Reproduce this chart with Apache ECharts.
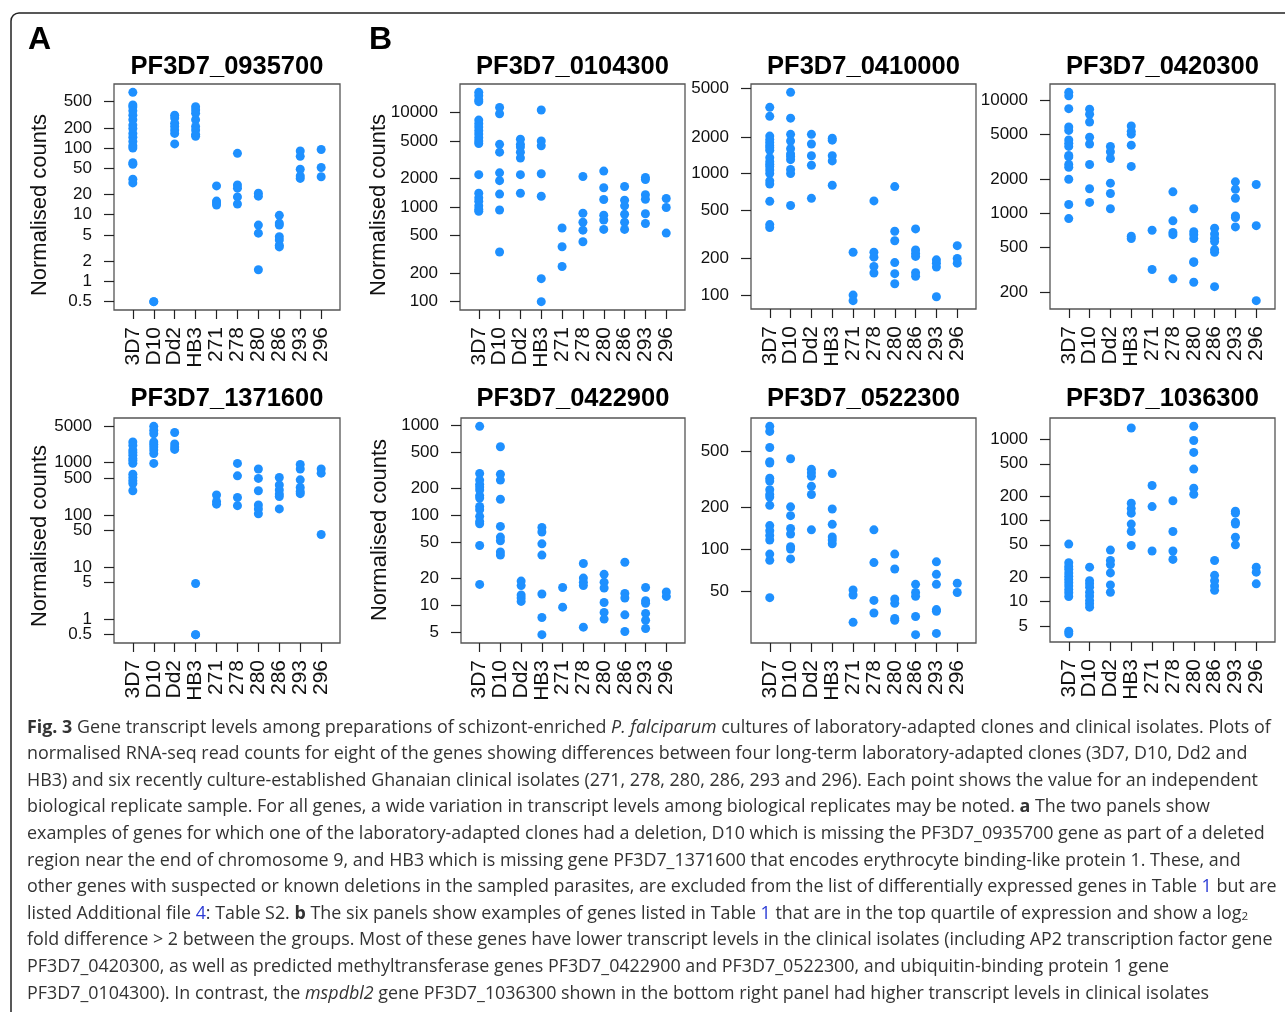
<!DOCTYPE html>
<html><head><meta charset="utf-8">
<script src="https://cdn.jsdelivr.net/npm/echarts@6/dist/echarts.min.js"></script>
<style>html,body{margin:0;padding:0;background:#fff}#c{width:1285px;height:1012px}</style>
</head><body><div id="c"></div>
<script>
const categories = ['3D7','D10','Dd2','HB3','271','278','280','286','293','296'];
const genes = ['PF3D7_0935700','PF3D7_0104300','PF3D7_0410000','PF3D7_0420300','PF3D7_1371600','PF3D7_0422900','PF3D7_0522300','PF3D7_1036300'];

const v0935700 = [
  [680,440,410,360,310,265,220,195,165,145,125,108,100,60,57,34,30],
  [0.5,0.5],
  [310,280,235,210,185,165,115],
  [415,370,330,265,210,185,160,150],
  [27,16,15,14],
  [83,28,25,18.5,14.5],
  [21,19,7,5.3,1.5],
  [9.8,7.5,7,4.7,4.2,3.5,3.3],
  [90,75,48,38,35],
  [95,51,37]
];
const v0104300 = [
  [16300,15000,13600,13000,8300,7600,7000,6400,5900,5400,5000,4700,2200,1400,1250,1150,1030,950,900],
  [11300,9700,4600,3800,2300,1900,1370,930,335],
  [5200,4600,4300,3800,3300,2200,1400],
  [10600,5000,4450,2250,1300,175,100],
  [600,380,235],
  [2100,860,690,570,430],
  [2400,1600,1200,820,730,580],
  [1650,1180,1030,840,690,580],
  [2050,1950,1350,1210,850,670],
  [1230,990,530]
];
const v0410000 = [
  [3500,2950,2030,1900,1800,1700,1630,1550,1350,1250,1190,1140,1070,1000,870,820,590,380,360],
  [4650,2850,2100,1850,1600,1450,1380,1300,1080,1000,545],
  [2100,1750,1400,1170,625],
  [1950,1880,1400,1270,800],
  [225,100,90],
  [595,225,205,172,152],
  [780,335,280,185,150,124],
  [350,235,220,208,153,143],
  [195,183,170,97],
  [255,200,183]
];
const v0420300 = [
  [11700,10900,8400,5800,5400,4450,4150,3900,3250,3150,2700,2550,2000,1200,900],
  [8300,7500,6400,4700,4100,2700,1650,1250],
  [3900,3500,3050,1850,1500,1100],
  [5900,5300,5000,4000,2600,630,600],
  [710,320],
  [1550,860,680,650,265],
  [1100,690,650,600,375,370,247],
  [740,660,605,565,480,455,226],
  [1900,1630,1360,950,920,760],
  [1800,780,170]
];
const v1371600 = [
  [2500,2150,1750,1580,1400,1200,1100,980,600,520,450,400,290],
  [5000,4200,3600,2500,2250,2000,1750,1500,970],
  [3800,2300,2000,1800],
  [4.8,0.5,0.5],
  [240,180,160],
  [970,560,215,150],
  [760,500,290,155,130,105],
  [520,375,300,250,225,130],
  [930,760,470,335,280,255],
  [760,630,42]
];
const v0422900 = [
  [970,290,245,220,205,190,165,155,125,115,97,85,80,46,17],
  [575,285,245,150,75,57,52,39,36],
  [18.5,16.5,13,12,11],
  [73,65,48,36,13.3,7.3,4.7],
  [15.7,9.5],
  [29,20,18,16.5,5.7],
  [22,18,15.5,10.7,8.3,7],
  [30,13.5,12,7.8,5.1],
  [15.7,11.2,10.5,8.1,6.8,5.5],
  [14,12.5]
];
const v0522300 = [
  [750,690,530,420,410,320,305,265,245,235,205,147,135,125,116,92,83,45],
  [440,200,173,140,128,104,100,85],
  [370,350,330,280,245,137],
  [345,193,150,122,116,109],
  [51,47,30],
  [137,80,43,35],
  [92,72,44,41,32,31],
  [56,49,46,33,24.5],
  [81,66,56,37,36,25],
  [57,49]
];
const v1036300 = [
  [51,30,27,25,22.5,20.5,18.7,17,15.5,14,12.8,11.5,4.3,4],
  [26.5,18,16.5,15,13,11.7,10.3,9.4,8.5],
  [43,32,28.5,22.5,16,13],
  [1380,163,140,123,90,73,49],
  [270,148,42],
  [175,73,42,33],
  [1450,970,690,430,250,210],
  [32,21,18,15.5,13.7],
  [130,123,95,90,62,50],
  [26.5,23,16.5]
];

const t0935700 = [0.5,1,2,5,10,20,50,100,200,500];
const t0104300 = [100,200,500,1000,2000,5000,10000];
const t0410000 = [100,200,500,1000,2000,5000];
const t0420300 = [200,500,1000,2000,5000,10000];
const t1371600 = [0.5,1,5,10,50,100,500,1000,5000];
const t0422900 = [5,10,20,50,100,200,500,1000];
const t0522300 = [50,100,200,500];
const t1036300 = [5,10,20,50,100,200,500,1000];

const yLabel = 'Normalised counts';

const values = [v0935700,v0104300,v0410000,v0420300,v1371600,v0422900,v0522300,v1036300];
const ticks = [t0935700,t0104300,t0410000,t0420300,t1371600,t0422900,t0522300,t1036300];

// layout (pixels)
const layout = [
  {left:114, top:84, width:226, height:226, name:[40,205], titleY:66.5},
  {left:460, top:84, width:225, height:226, name:[379,205], titleY:66.5},
  {left:751, top:84, width:225, height:225, titleY:66.5},
  {left:1050, top:84, width:225, height:225, titleY:66.5},
  {left:114, top:418, width:226, height:225, name:[40,536], titleY:398.5},
  {left:461, top:418, width:224, height:225, name:[380,530], titleY:398.5},
  {left:751, top:418, width:225, height:225, titleY:398.5},
  {left:1050, top:418, width:225, height:224, titleY:398.5}
];

const FONT = '"Liberation Sans", Arial, Helvetica, sans-serif';
const DOT = '#1E90FF';
const xPos = categories.map((c,i)=>i+1);

function logExtent(vals){
  const ls = vals.flat().map(Math.log10);
  const lo = Math.min(...ls), hi = Math.max(...ls);
  const d = (hi-lo)*0.04;
  return [Math.pow(10, lo-d), Math.pow(10, hi+d)];
}
function fmtNum(v){ return String(+Number(v).toPrecision(6)); }
const evens = a => a.filter((_,k)=>k%2===0);
const odds = a => a.filter((_,k)=>k%2===1);

const grids=[], xAxes=[], yAxes=[], series=[], graphics=[];
values.forEach((vals,i)=>{
  const L = layout[i];
  grids.push({left:L.left, top:L.top, width:L.width, height:L.height, show:true,
    borderColor:'#555', borderWidth:1.3, backgroundColor:'transparent'});
  // Two overlapping axes per direction carry alternate labels, so densely packed
  // labels are never dropped by the label-overlap logic.
  [evens(xPos), odds(xPos)].forEach((lv,k)=>{
    xAxes.push({type:'value', gridIndex:i, min:0.1, max:10.9, position:'bottom',
      splitLine:{show:false}, axisLine:{show:false},
      axisTick:{show:k===0, customValues:xPos, length:9, lineStyle:{color:'#222', width:1.2}},
      axisLabel:{customValues:lv, rotate:90, margin:17, fontSize:21, color:'#111', fontFamily:FONT,
        showMinLabel:true, showMaxLabel:true,
        formatter:v=>categories[Math.round(v)-1]}});
  });
  const ext = logExtent(vals);
  [evens(ticks[i]), odds(ticks[i])].forEach((lv,k)=>{
    yAxes.push({type:'log', logBase:10, gridIndex:i, min:ext[0], max:ext[1], position:'left',
      splitLine:{show:false}, axisLine:{show:false},
      axisTick:{show:k===0, customValues:ticks[i], length:10, lineStyle:{color:'#222', width:1.2}},
      axisLabel:{customValues:lv, margin:22, fontSize:17, color:'#111', fontFamily:FONT,
        showMinLabel:true, showMaxLabel:true,
        formatter:v=>fmtNum(v)}});
  });
  const data=[];
  vals.forEach((arr,ci)=>arr.forEach(v=>data.push([ci+1, v])));
  series.push({type:'scatter', xAxisIndex:2*i, yAxisIndex:2*i, data, symbol:'circle', symbolSize:9,
    itemStyle:{color:DOT, opacity:1}, silent:true});
  graphics.push({type:'text', x:L.left+L.width/2, y:L.titleY,
    style:{text:genes[i], fill:'#000', font:'bold 25.5px '+FONT, align:'center', verticalAlign:'middle'}});
  if (L.name){
    graphics.push({type:'text', x:L.name[0], y:L.name[1], rotation:Math.PI/2,
      style:{text:yLabel, fill:'#111', font:'22px '+FONT, align:'center', verticalAlign:'middle'}});
  }
});

// panel letters
graphics.push({type:'text', x:28, y:40, style:{text:'A', fill:'#000', font:'bold 32px '+FONT, align:'left', verticalAlign:'middle'}});
graphics.push({type:'text', x:369, y:40, style:{text:'B', fill:'#000', font:'bold 32px '+FONT, align:'left', verticalAlign:'middle'}});
// figure frame
graphics.push({type:'rect', shape:{x:11, y:13, width:1400, height:1200, r:8},
  style:{fill:'none', stroke:'#222', lineWidth:1.5}, z:-1});

// caption
const CAP_FONT = '"Open Sans", "Noto Sans", sans-serif';
const caption = [
  [['b','Fig. 3'],['n',' Gene transcript levels among preparations of schizont-enriched '],['i','P. falciparum'],['n',' cultures of laboratory-adapted clones and clinical isolates. Plots of']],
  [['n','normalised RNA-seq read counts for eight of the genes showing differences between four long-term laboratory-adapted clones (3D7, D10, Dd2 and']],
  [['n','HB3) and six recently culture-established Ghanaian clinical isolates (271, 278, 280, 286, 293 and 296). Each point shows the value for an independent']],
  [['n','biological replicate sample. For all genes, a wide variation in transcript levels among biological replicates may be noted. '],['b','a'],['n',' The two panels show']],
  [['n','examples of genes for which one of the laboratory-adapted clones had a deletion, D10 which is missing the PF3D7_0935700 gene as part of a deleted']],
  [['n','region near the end of chromosome 9, and HB3 which is missing gene PF3D7_1371600 that encodes erythrocyte binding-like protein 1. These, and']],
  [['n','other genes with suspected or known deletions in the sampled parasites, are excluded from the list of differentially expressed genes in Table '],['l','1'],['n',' but are']],
  [['n','listed Additional file '],['l','4'],['n',': Table S2. '],['b','b'],['n',' The six panels show examples of genes listed in Table '],['l','1'],['n',' that are in the top quartile of expression and show a log'],['s','2']],
  [['n','fold difference > 2 between the groups. Most of these genes have lower transcript levels in the clinical isolates (including AP2 transcription factor gene']],
  [['n','PF3D7_0420300, as well as predicted methyltransferase genes PF3D7_0422900 and PF3D7_0522300, and ubiquitin-binding protein 1 gene']],
  [['n','PF3D7_0104300). In contrast, the '],['i','mspdbl2'],['n',' gene PF3D7_1036300 shown in the bottom right panel had higher transcript levels in clinical isolates']]
];
// size caption font so the first line spans the same width as in the figure
const ctx = document.createElement('canvas').getContext('2d');
function segFont(kind, size){
  if (kind==='b') return 'bold '+size+'px '+CAP_FONT;
  if (kind==='i') return 'italic '+size+'px '+CAP_FONT;
  if (kind==='s') return (size*0.65)+'px '+CAP_FONT;
  return size+'px '+CAP_FONT;
}
let w1 = 0;
caption[0].forEach(([k,t])=>{ ctx.font = segFont(k,20); w1 += ctx.measureText(t).width; });
const capSize = 20 * 1245 / w1;
const capColor = '#333';
const linkColor = '#2b3bd6';
function richStyle(k){
  const size = k==='s' ? capSize*0.65 : capSize;
  return {fontFamily:CAP_FONT, fontSize:size, fontWeight:k==='b'?'bold':'normal',
    fontStyle:k==='i'?'italic':'normal', fill:k==='l'?linkColor:capColor,
    verticalAlign:k==='s'?'bottom':'middle'};
}
const rich = {n:richStyle('n'), b:richStyle('b'), i:richStyle('i'), l:richStyle('l'), s:richStyle('s')};
caption.forEach((segs,li)=>{
  const text = segs.map(([k,t])=>'{'+k+'|'+t+'}').join('');
  graphics.push({type:'text', x:27, y:727.5 + li*26.6,
    style:{text, rich, fill:capColor, fontFamily:CAP_FONT, fontSize:capSize, align:'left', verticalAlign:'middle'}});
});

const chart = echarts.init(document.getElementById('c'), null, {renderer:'canvas'});
chart.setOption({
  animation:false,
  backgroundColor:'#fff',
  textStyle:{fontFamily:FONT},
  grid:grids, xAxis:xAxes, yAxis:yAxes, series,
  graphic:{elements:graphics}
});
</script></body></html>
